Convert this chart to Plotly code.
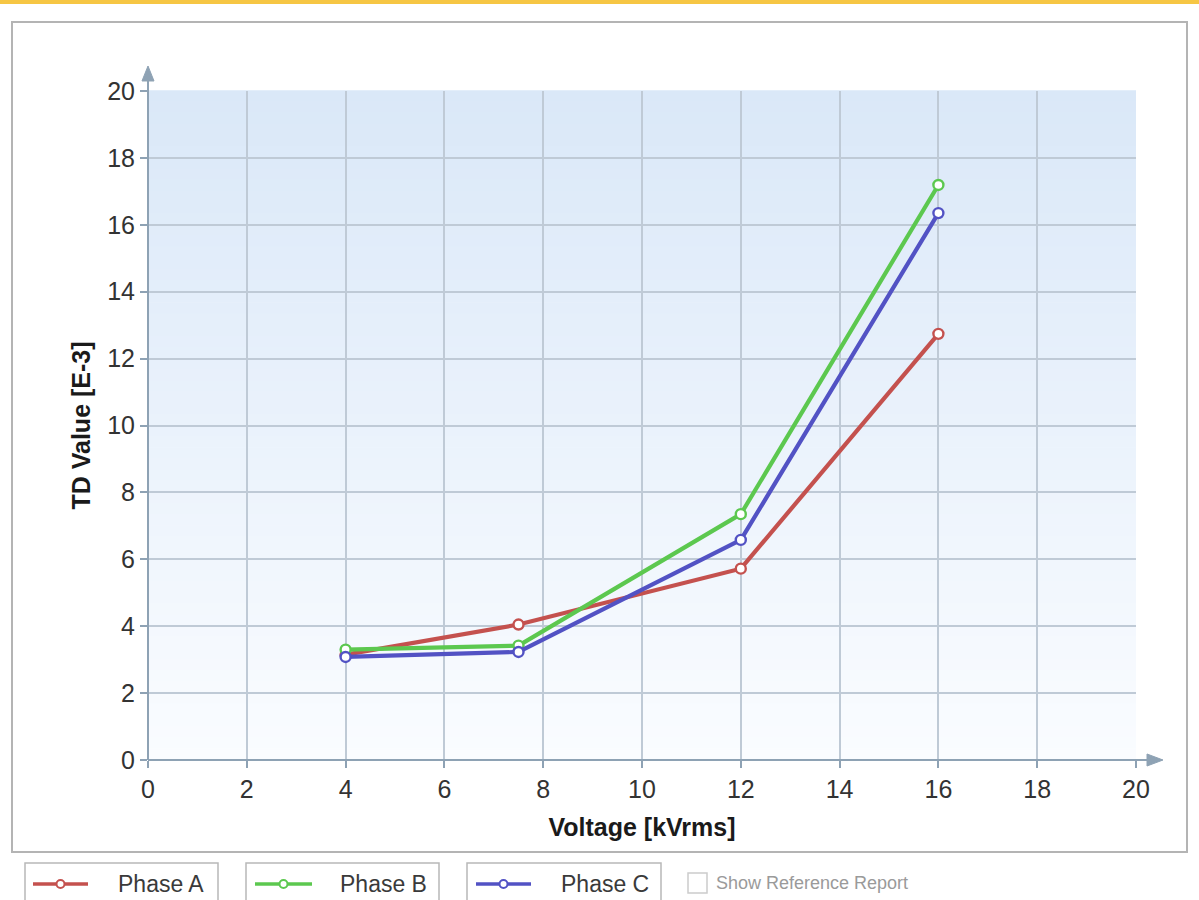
import plotly.graph_objects as go

# ---- data ----
voltage = [4, 7.5, 12, 16]
phase_a = [3.15, 4.05, 5.72, 12.74]
phase_b = [3.3, 3.42, 7.35, 17.19]
phase_c = [3.08, 3.23, 6.58, 16.35]
series_names = ["Phase A", "Phase B", "Phase C"]
series_colors = ["#c4514e", "#5cc84f", "#5252c4"]
x_ticks = [0, 2, 4, 6, 8, 10, 12, 14, 16, 18, 20]
y_ticks = [0, 2, 4, 6, 8, 10, 12, 14, 16, 18, 20]

# screen geometry (page has an 8px body margin)
OFF = 8
SW, SH = 1199, 900
PL, PR, PT, PB = 148, 1136, 91, 760  # plot area in screen px
W, H = SW - OFF, SH - OFF
L, T = PL - OFF, PT - OFF
R, B = W - (PR - OFF), H - (PB - OFF)
PW, PH = PR - PL, PB - PT


def px(x):
    return (x - PL) / PW


def py(y):
    return (PB - y) / PH


FONT = "Liberation Sans, Arial, sans-serif"
AXC = "#8ea2b4"
GRID = "#bfcad6"

fig = go.Figure()
for name, vals, col in zip(series_names, [phase_a, phase_b, phase_c], series_colors):
    fig.add_trace(go.Scatter(
        x=voltage, y=vals, name=name, mode="lines+markers",
        line=dict(color=col, width=4.2),
        marker=dict(symbol="circle", size=10, color="white", line=dict(color=col, width=2.4)),
        showlegend=False,
    ))

shapes = []
# gradient plot background
n = 60
top = (218, 232, 248)
bot = (250, 252, 255)
for i in range(n):
    t = i / (n - 1)
    c = tuple(round(top[k] + (bot[k] - top[k]) * t) for k in range(3))
    shapes.append(dict(type="rect", xref="paper", yref="paper",
                       x0=0, x1=1, y0=1 - (i + 1) / n, y1=1 - i / n + 0.001,
                       fillcolor="rgb(%d,%d,%d)" % c, line=dict(width=0), layer="below"))

# outer frame
shapes.append(dict(type="rect", xref="paper", yref="paper", x0=px(12), x1=px(1187),
                   y0=py(852), y1=py(22), line=dict(color="#b4b4b4", width=2), layer="below"))

# axis lines with arrows
shapes.append(dict(type="line", xref="paper", yref="paper", x0=px(PL), x1=px(PL),
                   y0=py(PB), y1=py(78), line=dict(color=AXC, width=2)))
shapes.append(dict(type="path", xref="paper", yref="paper",
                   path="M %f %f L %f %f L %f %f Z" % (px(PL), py(66), px(PL - 6), py(81), px(PL + 6), py(81)),
                   fillcolor=AXC, line=dict(color=AXC, width=1)))
shapes.append(dict(type="line", xref="paper", yref="paper", x0=px(PL), x1=px(1150),
                   y0=py(PB), y1=py(PB), line=dict(color=AXC, width=2)))
shapes.append(dict(type="path", xref="paper", yref="paper",
                   path="M %f %f L %f %f L %f %f Z" % (px(1163), py(PB), px(1147), py(PB - 6), px(1147), py(PB + 6)),
                   fillcolor=AXC, line=dict(color=AXC, width=1)))

annotations = []
# custom legend
legend_boxes = [(25, 218), (246, 439), (467, 661)]
legend_lines = [(33, 88), (255, 312), (476, 531)]
legend_text_x = [161, 383, 605]
for (bx0, bx1), (lx0, lx1), tx, name, col in zip(legend_boxes, legend_lines, legend_text_x, series_names, series_colors):
    shapes.append(dict(type="rect", xref="paper", yref="paper", x0=px(bx0), x1=px(bx1),
                       y0=py(910), y1=py(863), line=dict(color="#b8b8b8", width=1.5), fillcolor="white"))
    shapes.append(dict(type="line", xref="paper", yref="paper", x0=px(lx0), x1=px(lx1),
                       y0=py(884), y1=py(884), line=dict(color=col, width=3.5)))
    cx = (lx0 + lx1) / 2
    shapes.append(dict(type="circle", xref="paper", yref="paper", x0=px(cx - 4), x1=px(cx + 4),
                       y0=py(888), y1=py(880), line=dict(color=col, width=2), fillcolor="white"))
    annotations.append(dict(text=name, xref="paper", yref="paper", x=px(tx), y=py(884),
                            xanchor="center", yanchor="middle", showarrow=False,
                            font=dict(family=FONT, size=23, color="#3a3a3a")))
# checkbox
shapes.append(dict(type="rect", xref="paper", yref="paper", x0=px(688), x1=px(707),
                   y0=py(893), y1=py(873), line=dict(color="#cccccc", width=1.5), fillcolor="white"))
annotations.append(dict(text="Show Reference Report", xref="paper", yref="paper", x=px(714), y=py(883),
                        xanchor="left", yanchor="middle", showarrow=False,
                        font=dict(family=FONT, size=18, color="#9a9a9a")))

fig.update_layout(
    width=W, height=H,
    margin=dict(l=L, r=R, t=T, b=B),
    paper_bgcolor="white", plot_bgcolor="rgba(0,0,0,0)",
    shapes=shapes, annotations=annotations,
    font=dict(family=FONT, color="#333333"),
    xaxis=dict(range=[0, 20], tickvals=x_ticks, ticktext=[str(v) for v in x_ticks],
               showgrid=True, gridcolor=GRID, gridwidth=1.5, zeroline=False,
               showline=False, ticks="outside", ticklen=7, tickcolor=AXC, tickwidth=1.5,
               tickfont=dict(size=25, color="#333333"),
               title=dict(text="<b>Voltage [kVrms]</b>", font=dict(size=25, color="#1a1a1a"), standoff=16)),
    yaxis=dict(range=[0, 20], tickvals=y_ticks, ticktext=[str(v) for v in y_ticks],
               showgrid=True, gridcolor=GRID, gridwidth=1.5, zeroline=False,
               showline=False, ticks="outside", ticklen=7, tickcolor=AXC, tickwidth=1.5,
               tickfont=dict(size=25, color="#333333"),
               title=dict(text="<b>TD Value [E-3]</b>", font=dict(size=25, color="#1a1a1a"), standoff=9)),
)

# thin yellow strip across the top of the page (inside the body margin)
fig.write_html(
    "out.html",
    post_script="document.body.style.background='linear-gradient(to bottom, #f6c644 0px, #f6c644 4px, #ffffff 4px)';"
                "document.body.style.backgroundRepeat='no-repeat';",
)
